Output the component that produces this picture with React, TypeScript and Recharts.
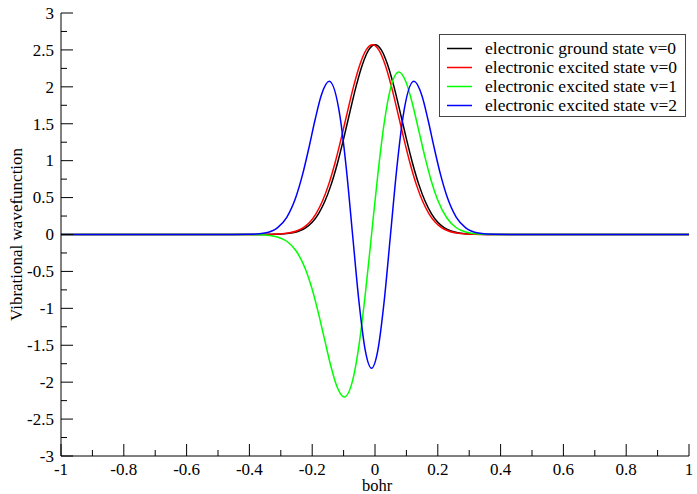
import React from 'react';
import { LineChart, Line, XAxis, YAxis, Legend } from 'recharts';

// ---- data ----
const X_TICKS = [-1, -0.9, -0.8, -0.7, -0.6, -0.5, -0.4, -0.3, -0.2, -0.1, 0, 0.1, 0.2, 0.3, 0.4, 0.5, 0.6, 0.7, 0.8, 0.9, 1];
const Y_TICKS = [-3, -2.75, -2.5, -2.25, -2, -1.75, -1.5, -1.25, -1, -0.75, -0.5, -0.25, 0, 0.25, 0.5, 0.75, 1, 1.25, 1.5, 1.75, 2, 2.25, 2.5, 2.75, 3];

const SERIES_NAMES = [
  'electronic ground state v=0',
  'electronic excited state v=0',
  'electronic excited state v=1',
  'electronic excited state v=2',
];
const SERIES_COLORS = ['#000000', '#ff0000', '#00ff00', '#0000ff'];

const groundV0X = [-1, -0.4, -0.36, -0.32, -0.28, -0.24, -0.22, -0.2, -0.18, -0.16, -0.14, -0.12, -0.1, -0.08, -0.06, -0.04, -0.02, 0, 0.02, 0.04, 0.06, 0.08, 0.1, 0.12, 0.14, 0.16, 0.18, 0.2, 0.22, 0.24, 0.28, 0.32, 0.36, 0.4, 1];
const groundV0Y = [0, 0.0001, 0.0004, 0.0023, 0.012, 0.05, 0.094, 0.166, 0.28, 0.446, 0.672, 0.959, 1.296, 1.658, 2.009, 2.303, 2.501, 2.57, 2.501, 2.303, 2.009, 1.658, 1.296, 0.959, 0.672, 0.446, 0.28, 0.166, 0.094, 0.05, 0.012, 0.0023, 0.0004, 0.0001, 0];

const excitedV0X = [-1, -0.408, -0.368, -0.328, -0.288, -0.248, -0.228, -0.208, -0.188, -0.168, -0.148, -0.128, -0.108, -0.088, -0.068, -0.048, -0.028, -0.008, 0.012, 0.032, 0.052, 0.072, 0.092, 0.112, 0.132, 0.152, 0.172, 0.192, 0.212, 0.232, 0.272, 0.312, 0.352, 0.392, 1];
const excitedV0Y = [0, 0.0001, 0.0004, 0.0023, 0.012, 0.05, 0.094, 0.166, 0.28, 0.446, 0.672, 0.959, 1.296, 1.658, 2.009, 2.303, 2.501, 2.57, 2.501, 2.303, 2.009, 1.658, 1.296, 0.959, 0.672, 0.446, 0.28, 0.166, 0.094, 0.05, 0.012, 0.0023, 0.0004, 0.0001, 0];

const excitedV1X = [-1, -0.401, -0.351, -0.311, -0.281, -0.251, -0.221, -0.201, -0.181, -0.161, -0.141, -0.121, -0.098, -0.071, -0.051, -0.031, -0.011, 0.009, 0.029, 0.049, 0.076, 0.099, 0.119, 0.139, 0.159, 0.179, 0.199, 0.229, 0.259, 0.289, 0.329, 0.379, 1];
const excitedV1Y = [0, -0.0007, -0.0068, -0.0328, -0.0912, -0.223, -0.475, -0.729, -1.051, -1.414, -1.775, -2.062, -2.2, -1.972, -1.501, -0.812, 0, 0.812, 1.501, 1.972, 2.2, 2.062, 1.775, 1.414, 1.051, 0.729, 0.475, 0.223, 0.0912, 0.0328, 0.0068, 0.0007, 0];

const excitedV2X = [-1, -0.451, -0.401, -0.351, -0.311, -0.281, -0.251, -0.231, -0.211, -0.191, -0.171, -0.146, -0.111, -0.091, -0.071, -0.051, -0.031, -0.011, 0.009, 0.029, 0.049, 0.069, 0.089, 0.124, 0.149, 0.169, 0.189, 0.209, 0.229, 0.259, 0.289, 0.329, 0.379, 0.429, 1];
const excitedV2Y = [0, 0.0002, 0.0022, 0.0203, 0.0904, 0.2335, 0.519, 0.807, 1.165, 1.551, 1.886, 2.074, 1.586, 0.879, -0.02, -0.912, -1.568, -1.81, -1.568, -0.912, -0.02, 0.879, 1.586, 2.074, 1.886, 1.551, 1.165, 0.807, 0.519, 0.2335, 0.0904, 0.0203, 0.0022, 0.0002, 0];

const X_TITLE = 'bohr';
const Y_TITLE = 'Vibrational wavefunction';

// ---- build series ----
const toPoints = (xs: number[], ys: number[]) => xs.map((x, i) => ({ x, y: ys[i] }));
const SERIES = [
  toPoints(groundV0X, groundV0Y),
  toPoints(excitedV0X, excitedV0Y),
  toPoints(excitedV1X, excitedV1Y),
  toPoints(excitedV2X, excitedV2Y),
];

const FONT = '"Liberation Serif", "Times New Roman", Times';
const TICK_FONT_SIZE = 17;
const MAJOR = 12;
const MINOR = 6;

const isMajorX = (v: number) => Math.abs(Math.round(v * 10)) % 2 === 0;
const isMajorY = (v: number) => Math.abs(Math.round(v * 4)) % 2 === 0;

const txtStyle = { fontFamily: FONT, fontSize: TICK_FONT_SIZE };

const BottomTick = (props: any) => {
  const { x, y, payload } = props;
  const v = payload.value;
  const major = isMajorX(v);
  return (
    <g>
      <line x1={x} y1={y} x2={x} y2={y - (major ? MAJOR : MINOR)} stroke="#000" strokeWidth={1} />
      {major && (
        <text x={x} y={y + 18.5} textAnchor="middle" style={txtStyle} fill="#000">
          {String(v)}
        </text>
      )}
    </g>
  );
};

const TopTick = (props: any) => {
  const { x, y, payload } = props;
  const major = isMajorX(payload.value);
  return <line x1={x} y1={y} x2={x} y2={y + (major ? MAJOR : MINOR)} stroke="#000" strokeWidth={1} />;
};

const LeftTick = (props: any) => {
  const { x, y, payload } = props;
  const v = payload.value;
  const major = isMajorY(v);
  return (
    <g>
      <line x1={x} y1={y} x2={x + (major ? MAJOR : MINOR)} y2={y} stroke="#000" strokeWidth={1} />
      {major && (
        <text x={x - 7} y={y + 5.8} textAnchor="end" style={txtStyle} fill="#000">
          {String(v)}
        </text>
      )}
    </g>
  );
};

const RightTick = (props: any) => {
  const { x, y, payload } = props;
  const major = isMajorY(payload.value);
  return <line x1={x} y1={y} x2={x - (major ? MAJOR : MINOR)} y2={y} stroke="#000" strokeWidth={1} />;
};

const renderYTitle = (props: any) => {
  const vb = props.viewBox || { x: 0, y: 13, width: 61, height: 443 };
  const cx = vb.x + 16;
  const cy = vb.y + vb.height / 2;
  return (
    <text
      x={cx}
      y={cy}
      transform={`rotate(-90, ${cx}, ${cy})`}
      textAnchor="middle"
      dominantBaseline="central"
      style={{ fontFamily: FONT, fontSize: 17 }}
      fill="#000"
    >
      {Y_TITLE}
    </text>
  );
};

const renderXTitle = (props: any) => {
  const vb = props.viewBox || { x: 61, y: 456, width: 628, height: 38 };
  return (
    <text x={vb.x + vb.width / 2 + 2} y={vb.y + 35} textAnchor="middle" style={{ fontFamily: FONT, fontSize: 16.5 }} fill="#000">
      {X_TITLE}
    </text>
  );
};

const renderLegend = (props: any) => {
  const payload: any[] = props.payload || [];
  const items = SERIES_NAMES.map((n, i) => {
    const p = payload.find((q) => q.value === n);
    return { name: n, color: p ? p.color : SERIES_COLORS[i] };
  });
  return (
    <div
      style={{
        width: 247,
        height: 83,
        boxSizing: 'border-box',
        border: '1px solid #444',
        background: '#fff',
        paddingTop: 4,
        fontFamily: FONT,
        fontSize: 17.5,
        color: '#000',
      }}
    >
      {items.map((it) => (
        <div key={it.name} style={{ height: 19, display: 'flex', alignItems: 'center', whiteSpace: 'nowrap' }}>
          <svg width={45} height={19} style={{ flex: 'none' }}>
            <line x1={7} x2={32} y1={9.5} y2={9.5} stroke={it.color} strokeWidth={1.5} />
          </svg>
          <span style={{ lineHeight: '19px', fontFamily: FONT }}>{it.name}</span>
        </div>
      ))}
    </div>
  );
};

export default function App() {
  return (
    <div style={{ position: 'absolute', left: 0, top: 0, width: 697, height: 494, background: '#fff', fontFamily: FONT }}>
      <LineChart width={697} height={494} margin={{ top: 13, right: 8, bottom: 0, left: 0 }} style={{ fontFamily: FONT }}>
        <XAxis
          xAxisId={0}
          type="number"
          dataKey="x"
          domain={[-1, 1]}
          ticks={X_TICKS}
          interval={0}
          allowDataOverflow
          height={38}
          tickSize={0}
          tickMargin={0}
          tickLine={false}
          axisLine={{ stroke: '#000', strokeWidth: 1 }}
          tick={<BottomTick />}
          label={renderXTitle}
        />
        <XAxis
          xAxisId="top"
          orientation="top"
          type="number"
          dataKey="x"
          domain={[-1, 1]}
          ticks={X_TICKS}
          interval={0}
          allowDataOverflow
          height={0}
          tickSize={0}
          tickMargin={0}
          tickLine={false}
          axisLine={{ stroke: '#000', strokeWidth: 1 }}
          tick={<TopTick />}
        />
        <YAxis
          yAxisId={0}
          type="number"
          domain={[-3, 3]}
          ticks={Y_TICKS}
          interval={0}
          allowDataOverflow
          width={61}
          tickSize={0}
          tickMargin={0}
          tickLine={false}
          axisLine={{ stroke: '#000', strokeWidth: 1 }}
          tick={<LeftTick />}
          label={renderYTitle}
        />
        <YAxis
          yAxisId="right"
          orientation="right"
          type="number"
          domain={[-3, 3]}
          ticks={Y_TICKS}
          interval={0}
          allowDataOverflow
          width={0}
          tickSize={0}
          tickMargin={0}
          tickLine={false}
          axisLine={{ stroke: '#000', strokeWidth: 1 }}
          tick={<RightTick />}
        />
        <Legend
          layout="horizontal"
          verticalAlign="middle"
          align="center"
          content={renderLegend}
          wrapperStyle={{ position: 'absolute', left: 439, top: 34, width: 247, height: 83, margin: 0 }}
        />
        {SERIES.map((pts, i) => (
          <Line
            key={SERIES_NAMES[i]}
            data={pts}
            dataKey="y"
            name={SERIES_NAMES[i]}
            type="monotone"
            stroke={SERIES_COLORS[i]}
            strokeWidth={1.5}
            dot={false}
            activeDot={false}
            isAnimationActive={false}
            xAxisId={0}
            yAxisId={0}
          />
        ))}
      </LineChart>
    </div>
  );
}
